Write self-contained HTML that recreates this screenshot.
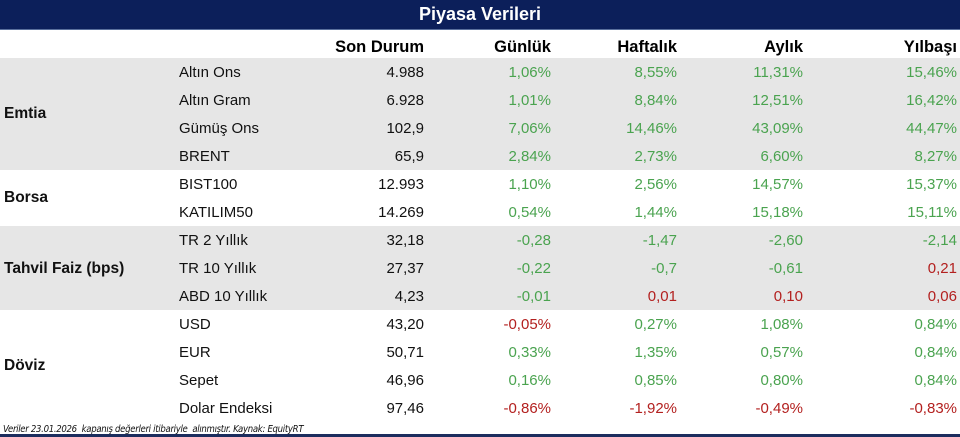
<!DOCTYPE html>
<html><head><meta charset="utf-8"><style>
body{margin:0;width:960px;height:437px;overflow:hidden;background:#fff;font-family:"Liberation Sans",Arial,sans-serif;position:relative}
.a{position:absolute}
.band{position:absolute;left:0;width:960px;background:#e6e6e6}
.r{position:absolute;font-size:15px;line-height:20px;white-space:nowrap;color:#111}
.g{color:#4aa34f}.d{color:#b3201f}
.h{font-weight:bold;font-size:16.5px;color:#000}
.grp{font-weight:bold;font-size:15.5px}
</style></head><body>
<div class="a" style="left:0;top:0;width:960px;height:29px;background:#0c1f5a;border-bottom:1px solid #5a6f9c"></div>
<div class="a" style="left:380px;top:3px;width:200px;text-align:center;color:#fff;font-weight:bold;font-size:18px;line-height:22px">Piyasa Verileri</div>
<div class="band" style="top:58px;height:112px"></div>
<div class="band" style="top:226px;height:84px"></div>
<div class="a" style="left:0;top:434px;width:960px;height:3px;background:#1c2d5e"></div>
<div class="a" style="left:3px;top:424px;font-size:9.5px;font-style:italic;color:#111;font-family:'DejaVu Sans Condensed','Liberation Sans Narrow',sans-serif;letter-spacing:-0.3px">Veriler 23.01.2026&nbsp; kapanış değerleri itibariyle&nbsp; alınmıştır. Kaynak: EquityRT</div>
<div id="c"></div>
<script>
var H=['Son Durum','Günlük','Haftalık','Aylık','Yılbaşı'];
var R=[424,551,677,803,957];
var out='';
H.forEach(function(h,i){out+='<div class="r h" style="right:'+(960-R[i])+'px;top:37px">'+h+'</div>';});
var rows=[
['Altın Ons','4.988','g1,06%','g8,55%','g11,31%','g15,46%'],
['Altın Gram','6.928','g1,01%','g8,84%','g12,51%','g16,42%'],
['Gümüş Ons','102,9','g7,06%','g14,46%','g43,09%','g44,47%'],
['BRENT','65,9','g2,84%','g2,73%','g6,60%','g8,27%'],
['BIST100','12.993','g1,10%','g2,56%','g14,57%','g15,37%'],
['KATILIM50','14.269','g0,54%','g1,44%','g15,18%','g15,11%'],
['TR 2 Yıllık','32,18','g-0,28','g-1,47','g-2,60','g-2,14'],
['TR 10 Yıllık','27,37','g-0,22','g-0,7','g-0,61','d0,21'],
['ABD 10 Yıllık','4,23','g-0,01','d0,01','d0,10','d0,06'],
['USD','43,20','d-0,05%','g0,27%','g1,08%','g0,84%'],
['EUR','50,71','g0,33%','g1,35%','g0,57%','g0,84%'],
['Sepet','46,96','g0,16%','g0,85%','g0,80%','g0,84%'],
['Dolar Endeksi','97,46','d-0,86%','d-1,92%','d-0,49%','d-0,83%']];
rows.forEach(function(r,k){var y=63+k*28;
out+='<div class="r" style="left:179px;top:'+y+'px">'+r[0]+'</div>';
out+='<div class="r" style="right:'+(960-R[0])+'px;top:'+y+'px">'+r[1]+'</div>';
for(var i=2;i<6;i++){out+='<div class="r '+r[i][0]+'" style="right:'+(960-R[i-1])+'px;top:'+y+'px">'+r[i].slice(1)+'</div>';}
});
[['Emtia',104],['Borsa',188],['Tahvil Faiz (bps)',259],['Döviz',356]].forEach(function(g){out+='<div class="r grp" style="left:4px;top:'+g[1]+'px">'+g[0]+'</div>';});
document.getElementById('c').innerHTML=out;
</script>
</body></html>
